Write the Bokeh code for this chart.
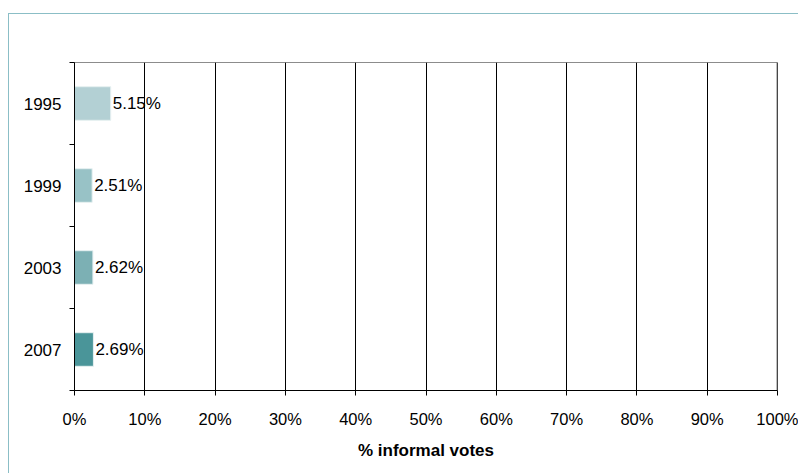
from bokeh.plotting import figure
from bokeh.models import (ColumnDataSource, Range1d, FixedTicker, PrintfTickFormatter,
                          LabelSet, Span, InlineStyleSheet)
from bokeh.core.properties import value
from bokeh.embed import file_html
from bokeh.resources import INLINE

years = ["1995", "1999", "2003", "2007"]
informal_pct = [5.15, 2.51, 2.62, 2.69]
bar_colors = ["#b3d0d4", "#98c2c6", "#7cb0b4", "#4a9599"]
x_ticks = [0, 10, 20, 30, 40, 50, 60, 70, 80, 90, 100]

pos = [i + 0.5 for i in range(len(years))]
src = ColumnDataSource(dict(
    y=pos, v=informal_pct, c=bar_colors, year=years,
    lab=["%.2f%%" % v for v in informal_pct],
))

FONT = "Liberation Sans"

p = figure(width=798, height=473, output_backend="svg", toolbar_location=None,
           x_range=Range1d(0, 100), y_range=Range1d(len(years), 0),
           min_border_left=74, min_border_right=21, min_border_top=62, min_border_bottom=83)
p.background_fill_color = "white"
p.border_fill_color = "white"
p.outline_line_color = "#8c8c8c"
p.outline_line_width = 1

p.hbar(y="y", left=0, right="v", height=0.41, fill_color="c", line_color="#e6f0f1",
       line_width=1, source=src)

# x axis
xa = p.xaxis[0]
xa.ticker = FixedTicker(ticks=x_ticks)
xa.formatter = PrintfTickFormatter(format="%d%%")
xa.axis_line_color = "black"
xa.major_tick_line_color = "black"
xa.major_tick_in = 0
xa.major_tick_out = 5
xa.minor_tick_line_color = None
xa.major_label_text_font = FONT
xa.major_label_text_font_size = "16.5px"
xa.major_label_text_color = "black"
xa.major_label_standoff = 14
xa.axis_label = "% informal votes"
xa.axis_label_text_font = FONT
xa.axis_label_text_font_size = "17px"
xa.axis_label_text_font_style = "bold"
xa.axis_label_text_color = "black"
xa.axis_label_standoff = 10

# y axis: labels at centers, ticks at boundaries (minor)
ya = p.yaxis[0]
ya.ticker = FixedTicker(ticks=pos, minor_ticks=list(range(len(years) + 1)))
ya.major_label_overrides = {p_: y_ for p_, y_ in zip(pos, years)}
ya.axis_line_color = "black"
ya.major_tick_line_color = None
ya.major_tick_in = 0
ya.major_tick_out = 0
ya.minor_tick_line_color = "black"
ya.minor_tick_in = 0
ya.minor_tick_out = 5
ya.major_label_text_font = FONT
ya.major_label_text_font_size = "17px"
ya.major_label_text_color = "black"
ya.major_label_standoff = 8

p.xgrid.ticker = FixedTicker(ticks=x_ticks)
p.xgrid.grid_line_color = "black"
p.xgrid.grid_line_width = 1
p.ygrid.grid_line_color = None

p.add_layout(Span(location=100, dimension="height", line_color="black", line_width=1.5))

labels = LabelSet(x="v", y="y", text="lab", source=src, x_offset=2,
                  text_baseline="middle", text_align="left",
                  text_font=value(FONT), text_font_size="17px", text_color="black")
p.add_layout(labels)

p.stylesheets = [InlineStyleSheet(css="""
:host::after {
  content: "";
  position: absolute;
  left: 8px; top: 13px; right: 0px; bottom: 0px;
  border-left: 1.5px solid #8bbec6;
  border-top: 1.5px solid #8bbec6;
  pointer-events: none;
  z-index: 100;
}
""")]

open("out.html", "w").write(file_html(p, INLINE))
